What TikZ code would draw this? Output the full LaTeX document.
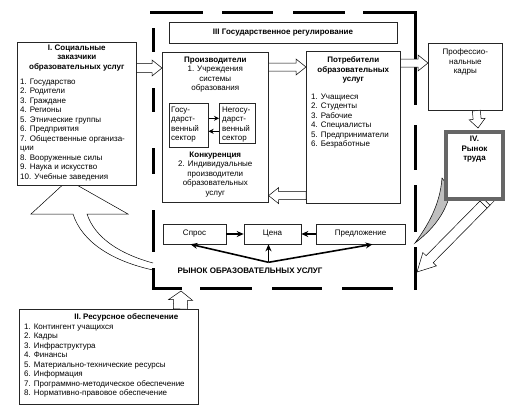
\documentclass[tikz,border=0pt]{standalone}
\usepackage{fontspec}
\setmainfont{Liberation Sans}
\usetikzlibrary{positioning, calc, arrows.meta}

\tikzset{
  box/.style={draw=black!85, fill=white, line width=0.6pt, inner sep=0pt},
  txt/.style={inner sep=0pt, font=\fontsize{8}{9.5}\selectfont},
  frame/.style={line width=3pt},
  thickarrow/.style={line width=1.6pt, -{Stealth[length=7pt,width=6pt]}},
  sectorarrow/.style={line width=1.2pt, -{Stealth[length=5pt,width=5pt]}},
}

% hollow block arrow: start, tip, half shaft, half head, head length
\newcommand{\hollowarrow}[5]{%
  \coordinate (ha-s) at (#1);
  \coordinate (ha-t) at (#2);
  \coordinate (ha-h) at ($(ha-t)!#5!(ha-s)$);
  \draw[fill=white, line width=0.5pt] ($(ha-s)!#3!90:(ha-t)$) -- ($(ha-h)!#3!-90:(ha-s)$)
    -- ($(ha-h)!#4!-90:(ha-s)$) -- (ha-t) -- ($(ha-h)!#4!90:(ha-s)$)
    -- ($(ha-h)!#3!90:(ha-s)$) -- ($(ha-s)!#3!-90:(ha-t)$) -- cycle;
}

\begin{document}
\begin{tikzpicture}[x=1pt, y=-1pt]
    \useasboundingbox (0,0) rectangle (508,410);

    % curved arrow back to the social customers (head hidden under box I)
    \path[fill=white] (31,214) -- (68,180) -- (128,214) -- (87,214) .. controls (95,238) and (120,254) .. (153,263)
        -- (153,270) .. controls (112,261) and (82,242) .. (73,214) -- cycle;
    \draw[line width=0.5pt] (153,270) .. controls (112,261) and (82,242) .. (73,214) -- (31,214) -- (68,180)
        -- (128,214) -- (87,214) .. controls (95,238) and (120,254) .. (153,263);

    % dashed frame of the market
    \foreach \xa/\xb in {150/203, 222/273, 293/345} \draw[frame] (\xa,12) -- (\xb,12);
    \draw[frame] (363,12) -- (415,12) -- (415,105);
    \foreach \ya/\yb in {125/170, 185/232, 247/290} \draw[frame] (415,\ya) -- (415,\yb);
    \foreach \ya/\yb in {28/52, 88/112, 148/174, 210/252} \draw[frame] (153,\ya) -- (153,\yb);
    \draw[frame] (153,268) -- (153,288) -- (182,288);
    \foreach \xa/\xb in {200/252, 272/322, 342/393} \draw[frame] (\xa,288) -- (\xb,288);

    % I. social customers
    \node[box, anchor=north west, minimum width=119pt, minimum height=143pt] (soc) at (17,42) {};
    \node[txt, align=center, font=\fontsize{8}{9.5}\selectfont\bfseries, below=2.7pt of soc.north] (soctitle)
        {I. Социальные\\заказчики\\образовательных услуг};
    \node[txt, align=left, anchor=north west] (soclist) at ([shift={(3,36.7)}]soc.north west)
        {1. Государство\\2. Родители\\3. Граждане\\4. Регионы\\5. Этнические группы\\6. Предприятия\\
         7. Общественные организа-\\ции\\8. Вооруженные силы\\9. Наука и искусство\\10. Учебные заведения};

    % II. resources
    \node[box, anchor=north west, minimum width=179pt, minimum height=95pt] (res) at (19,309) {};
    \node[txt, font=\fontsize{8}{9.5}\selectfont\bfseries, anchor=north] (restitle) at ([shift={(17.5,4.7)}]res.north)
        {II. Ресурсное обеспечение};
    \node[txt, align=left, anchor=north west] (reslist) at ([shift={(5,14.7)}]res.north west)
        {1. Контингент учащихся\\2. Кадры\\3. Инфраструктура\\4. Финансы\\5. Материально-технические ресурсы\\
         6. Информация\\7. Программно-методическое обеспечение\\8. Нормативно-правовое обеспечение};
    \coordinate (fb) at (181,291);
    \hollowarrow{[xshift=71.5pt]res.north}{fb}{7pt}{12pt}{9pt}

    % III. state regulation
    \node[box, txt, font=\fontsize{8}{9.5}\selectfont\bfseries, minimum width=228pt, minimum height=21pt] (gov) at (283,32.5)
        {III Государственное регулирование};

    % producers
    \node[box, anchor=north west, minimum width=106pt, minimum height=150pt] (prod) at (162,52) {};
    \node[txt, align=center, below=4.7pt of prod.north] (prodtitle)
        {\textbf{Производители}\\1. Учреждения\\системы\\образования};
    \node[box, anchor=north west, minimum width=39pt, minimum height=44pt] (gos) at (169,103) {};
    \node[box, anchor=north west, minimum width=36pt, minimum height=40pt] (negos) at (219,103) {};
    \node[txt, align=left, anchor=north west] (gostxt) at ([shift={(2,3.7)}]gos.north west)
        {Госу-\\дарст-\\венный\\сектор};
    \node[txt, align=left, anchor=north west] (negostxt) at ([shift={(3,3.7)}]negos.north west)
        {Негосу-\\дарст-\\венный\\сектор};
    \draw[sectorarrow] ([yshift=7pt]gos.east) -- ([yshift=7pt]gos.east -| negos.west);
    \draw[sectorarrow] ([yshift=-6pt]gos.east -| negos.west) -- ([yshift=-6pt]gos.east);
    \node[txt, align=center, below=99.7pt of prod.north] (konk)
        {\textbf{Конкуренция}\\2. Индивидуальные\\производители\\образовательных\\услуг};

    % consumers
    \node[box, anchor=north west, minimum width=94pt, minimum height=152pt] (cons) at (306,51) {};
    \node[txt, align=center, font=\fontsize{8}{9.5}\selectfont\bfseries, below=5.7pt of cons.north] (constitle)
        {Потребители\\образовательных\\услуг};
    \node[txt, align=left, anchor=north west] (conslist) at ([shift={(5,42.7)}]cons.north west)
        {1. Учащиеся\\2. Студенты\\3. Рабочие\\4. Специалисты\\5. Предприниматели\\6. Безработные};

    \hollowarrow{[yshift=-26pt]soc.north east}{[yshift=-16pt]prod.north west}{4.5pt}{8pt}{10pt}
    \hollowarrow{[yshift=-15pt]prod.north east}{[yshift=-16pt]cons.north west}{4pt}{8pt}{10pt}
    \hollowarrow{[yshift=8pt]cons.south west}{[yshift=7pt]prod.south east}{4pt}{8pt}{10pt}

    % professional staff and labour market
    \node[box, anchor=north west, minimum width=74pt, minimum height=67pt] (kadry) at (428,43) {};
    \node[txt, align=center, below=5.7pt of kadry.north] (kadrytxt) {Профессио-\\нальные\\кадры};
    \hollowarrow{[yshift=-12pt]cons.north east}{[yshift=-20pt]kadry.north west}{4pt}{8pt}{10pt}

    \coordinate (fr) at (417,272);
    \hollowarrow{492,196}{fr}{5pt}{9.5pt}{18pt}
    \coordinate (c1) at ($(ha-s)!8pt!(ha-t)$);
    \coordinate (c2) at ($(ha-s)!12pt!(ha-t)$);
    \draw[line width=0.5pt] ($(c1)!5pt!90:(ha-t)$) -- ($(c1)!5pt!-90:(ha-t)$);
    \draw[line width=0.5pt] ($(c2)!5pt!90:(ha-t)$) -- ($(c2)!5pt!-90:(ha-t)$);
    \draw[fill=black!25, line width=0.5pt] (442,178) .. controls (440,205) and (428,225) .. (415,243)
        .. controls (432,230) and (446,214) .. (451,190) -- cycle;

    \node[draw=black!60, fill=white, line width=4pt, inner sep=0pt, anchor=north west,
          minimum width=57pt, minimum height=67pt] (trud) at (444,130) {};
    \node[txt, align=center, font=\fontsize{8}{9.5}\selectfont\bfseries, below=6pt of trud.north] (trudtxt)
        {IV.\\Рынок\\труда};
    \hollowarrow{[xshift=11pt]kadry.south}{[xshift=3.5pt, yshift=2pt]trud.north}{4pt}{8pt}{9pt}

    % market of educational services
    \node[box, txt, minimum width=63pt, minimum height=20pt] (spros) at (194.5,234) {Спрос};
    \node[box, txt, minimum width=57pt, minimum height=20pt] (cena) at (272.5,234) {Цена};
    \node[box, txt, minimum width=89pt, minimum height=20pt] (pred) at (360.5,234) {Предложение};
    \draw[thickarrow] (spros) -- (cena);
    \draw[thickarrow] (pred) -- (cena);
    \coordinate (hub) at ([xshift=-4pt, yshift=-18pt]cena.south);
    \draw[thickarrow] (hub) -- ([xshift=-4pt]cena.south);
    \draw[thickarrow] (hub) -- ([xshift=-4pt]spros.south);
    \draw[thickarrow] (hub) -- ([xshift=12pt]pred.south);
    \node[txt, font=\fontsize{8}{9.5}\selectfont\bfseries] (rynok) at (250,271) {РЫНОК ОБРАЗОВАТЕЛЬНЫХ УСЛУГ};
\end{tikzpicture}
\end{document}
